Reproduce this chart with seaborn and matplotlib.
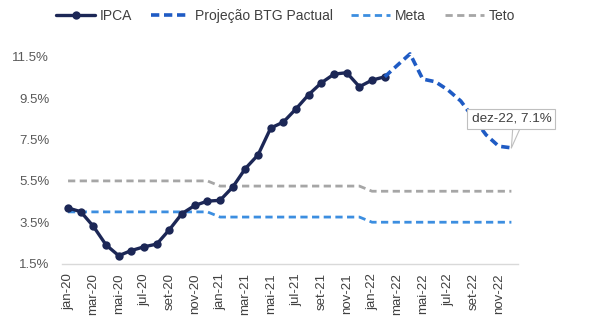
import matplotlib
matplotlib.use("Agg")
import matplotlib.pyplot as plt
import numpy as np
import pandas as pd
import seaborn as sns

# Monthly calendar, jan-20 .. dez-22
meses = ["jan", "fev", "mar", "abr", "mai", "jun",
         "jul", "ago", "set", "out", "nov", "dez"]
categorias = [f"{m}-{a}" for a in ("20", "21", "22") for m in meses]

# IPCA, 12-month accumulated (%), jan-20 .. fev-22
ipca = [4.19, 4.01, 3.30, 2.40, 1.88, 2.13, 2.31, 2.44, 3.14, 3.92, 4.31, 4.52,
        4.56, 5.20, 6.10, 6.76, 8.06, 8.35, 8.99, 9.68, 10.25, 10.67, 10.74, 10.06,
        10.38, 10.54]

# BTG Pactual projection (%), fev-22 .. dez-22
projecao = [10.54, 11.10, 11.65, 10.43, 10.30, 9.90, 9.37, 8.55, 7.73, 7.18, 7.10]

# Inflation target and upper tolerance bound per year (%)
meta_anual = [4.00, 3.75, 3.50]
teto_anual = [5.50, 5.25, 5.00]
meta = [v for v in meta_anual for _ in range(12)]
teto = [v for v in teto_anual for _ in range(12)]

idx = np.arange(len(categorias))
df_ipca = pd.DataFrame({"x": idx[:len(ipca)], "y": ipca})
df_proj = pd.DataFrame({"x": idx[len(ipca) - 1:], "y": projecao})
df_metas = pd.DataFrame({"x": idx, "meta": meta, "teto": teto})

sns.set_theme(style="white")
plt.rcParams["font.family"] = ["Liberation Sans", "DejaVu Sans"]

fig = plt.figure(figsize=(5.9, 3.29), dpi=100)
ax = fig.add_axes([0.1046, 0.199, 0.7729, 0.6278])

c_ipca = "#1c2756"
c_proj = "#1f5bc4"
c_meta = "#3c8ee0"
c_teto = "#a6a6a6"

sns.lineplot(data=df_metas, x="x", y="teto", ax=ax, color=c_teto, lw=2.0,
             linestyle=(0, (2.6, 1.6)), label="Teto")
sns.lineplot(data=df_metas, x="x", y="meta", ax=ax, color=c_meta, lw=2.0,
             linestyle=(0, (2.6, 1.6)), label="Meta")
sns.lineplot(data=df_ipca, x="x", y="y", ax=ax, color=c_ipca, lw=2.4,
             marker="o", markersize=6, markeredgewidth=0, label="IPCA")
sns.lineplot(data=df_proj, x="x", y="y", ax=ax, color=c_proj, lw=2.6,
             linestyle=(0, (2.3, 1.3)), clip_on=False, label="Projeção BTG Pactual")

# Axes styling
ax.set_xlim(-0.5, len(categorias) - 0.5)
ax.set_ylim(1.5, 11.5)
yt = np.arange(1.5, 11.6, 2.0)
ax.set_yticks(yt)
ax.set_yticklabels([f"{v:.1f}%" for v in yt], fontsize=9.5, color="#595959")
xt = idx[::2]
ax.set_xticks(xt)
ax.set_xticklabels([categorias[i] for i in xt], rotation=90, fontsize=9.5,
                   color="#404040")
ax.tick_params(axis="x", length=0, pad=7)
ax.tick_params(axis="y", length=0, pad=9)
ax.set_xlabel("")
ax.set_ylabel("")
for s in ("top", "right", "left"):
    ax.spines[s].set_visible(False)
ax.spines["bottom"].set_color("#d9d9d9")
ax.spines["bottom"].set_linewidth(1.0)
ax.grid(False)

# Callout on the last projected value (two leader lines forming a wedge)
ultimo = len(categorias) - 1
rotulo = f"{categorias[ultimo]}, {projecao[-1]:.1f}%"
for i, rx in enumerate((0.52, 0.63)):
    ax.annotate(rotulo, xy=(ultimo, projecao[-1]), xytext=(0, 21),
                textcoords="offset points", ha="center", va="center",
                fontsize=9.7, color="#404040" if i == 0 else "none",
                bbox=dict(boxstyle="square,pad=0.3",
                          fc="white" if i == 0 else "none",
                          ec="#bfbfbf" if i == 0 else "none", lw=0.8),
                arrowprops=dict(arrowstyle="-", color="#bfbfbf", lw=0.8,
                                shrinkA=0, shrinkB=0, relpos=(rx, 0)),
                zorder=5 if i == 0 else 4)

# Legend in the original series order
h, l = ax.get_legend_handles_labels()
ordem = ["IPCA", "Projeção BTG Pactual", "Meta", "Teto"]
hmap = dict(zip(l, h))
fig.legend([hmap[k] for k in ordem], ordem, loc="center", ncol=4,
           bbox_to_anchor=(0.484, 0.951), frameon=False, fontsize=10,
           handlelength=2.8, columnspacing=1.35, handletextpad=0.35,
           labelcolor="#404040")
ax.get_legend().remove()

fig.savefig("out.png", dpi=100, facecolor="white")
